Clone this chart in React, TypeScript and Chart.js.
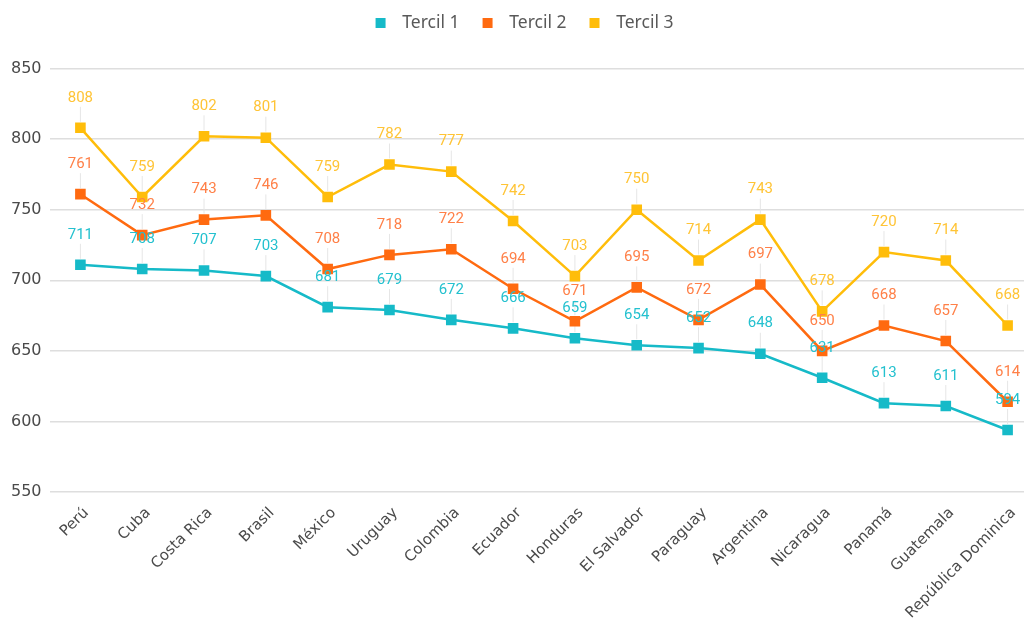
import React, { useEffect, useRef } from "react";
import { Chart, registerables } from "chart.js";

Chart.register(...registerables);

const countries = [
  "Perú", "Cuba", "Costa Rica", "Brasil", "México", "Uruguay", "Colombia", "Ecuador",
  "Honduras", "El Salvador", "Paraguay", "Argentina", "Nicaragua", "Panamá", "Guatemala",
  "República Dominica",
];
const tercil1 = [711, 708, 707, 703, 681, 679, 672, 666, 659, 654, 652, 648, 631, 613, 611, 594];
const tercil2 = [761, 732, 743, 746, 708, 718, 722, 694, 671, 695, 672, 697, 650, 668, 657, 614];
const tercil3 = [808, 759, 802, 801, 759, 782, 777, 742, 703, 750, 714, 743, 678, 720, 714, 668];
const seriesNames = ["Tercil 1", "Tercil 2", "Tercil 3"];
const lineColors = ["#16BAC8", "#FF6A10", "#FFBD0A"];
const labelColors = ["#24C1CF", "#FF8048", "#FFC436"];
const yMin = 550;
const yMax = 850;
const yStep = 50;

function legendSwatch(color: string): HTMLCanvasElement {
  const c = document.createElement("canvas");
  c.width = 31;
  c.height = 10;
  const g = c.getContext("2d")!;
  g.fillStyle = color;
  g.fillRect(13, 0, 10, 10);
  return c;
}

const valueLabels = {
  id: "valueLabels",
  beforeDatasetsDraw(chart: any) {
    const ctx = chart.ctx;
    ctx.save();
    ctx.strokeStyle = "#e6e6e6";
    ctx.lineWidth = 1;
    chart.data.datasets.forEach((_ds: any, i: number) => {
      const meta = chart.getDatasetMeta(i);
      meta.data.forEach((pt: any) => {
        ctx.beginPath();
        ctx.moveTo(pt.x, pt.y - 6);
        ctx.lineTo(pt.x, pt.y - 21);
        ctx.stroke();
      });
    });
    ctx.restore();
  },
  afterDatasetsDraw(chart: any) {
    const ctx = chart.ctx;
    ctx.save();
    ctx.font = "15px Roboto";
    ctx.textAlign = "center";
    ctx.textBaseline = "middle";
    chart.data.datasets.forEach((ds: any, i: number) => {
      const meta = chart.getDatasetMeta(i);
      ctx.fillStyle = labelColors[i];
      meta.data.forEach((pt: any, j: number) => {
        ctx.fillText(String(ds.data[j]), pt.x, pt.y - 30);
      });
    });
    ctx.restore();
  },
};

export default function App() {
  const ref = useRef<HTMLCanvasElement>(null);
  useEffect(() => {
    const series = [tercil1, tercil2, tercil3];
    const swatches = lineColors.map(legendSwatch);
    const chart = new Chart(ref.current!, {
      type: "line",
      data: {
        labels: countries,
        datasets: series.map((d, i) => ({
          label: seriesNames[i],
          data: d,
          borderColor: lineColors[i],
          backgroundColor: lineColors[i],
          pointBackgroundColor: lineColors[i],
          pointBorderWidth: 0,
          borderWidth: 2.5,
          pointStyle: "rect",
          pointRadius: 7.5,
          tension: 0,
        })),
      },
      options: {
        animation: false,
        responsive: true,
        maintainAspectRatio: false,
        layout: { padding: { top: 4, left: -10, right: 0, bottom: 0 } },
        plugins: {
          tooltip: { enabled: false },
          legend: {
            position: "top",
            labels: {
              usePointStyle: true,
              pointStyleWidth: 31,
              boxHeight: 10,
              padding: 10,
              color: "#595959",
              font: { family: "Noto Sans", size: 17.5 },
              generateLabels: (c: any) =>
                c.data.datasets.map((ds: any, i: number) => ({
                  text: ds.label,
                  fillStyle: lineColors[i],
                  strokeStyle: lineColors[i],
                  lineWidth: 0,
                  pointStyle: swatches[i],
                  hidden: false,
                  datasetIndex: i,
                  fontColor: "#595959",
                })),
            },
          },
          title: {
            display: true,
            text: "",
            weight: 500,
            font: { size: 10 },
            padding: { top: 8, bottom: 7 },
          } as any,
        },
        scales: {
          x: {
            offset: true,
            grid: { display: false, drawTicks: false },
            border: { display: false },
            ticks: {
              autoSkip: false,
              maxRotation: 45,
              minRotation: 45,
              padding: 12,
              labelOffset: 6,
              color: "#4a4a4a",
              font: { family: "DejaVu Sans", size: 15 },
            },
          },
          y: {
            min: yMin,
            max: yMax,
            grid: { color: "#dedede", lineWidth: 1.5, drawTicks: false },
            border: { display: false },
            afterFit: (s: any) => {
              s.width = 59.5;
            },
            ticks: {
              stepSize: yStep,
              padding: 8,
              color: "#4a4a4a",
              font: { family: "DejaVu Sans", size: 16 },
            },
          },
        },
      },
      plugins: [valueLabels],
    });
    return () => chart.destroy();
  }, []);
  return (
    <div
      style={{
        position: "fixed",
        left: 0,
        top: 0,
        width: 1024,
        height: 622,
        overflow: "hidden",
        background: "#fff",
      }}
    >
      <div style={{ position: "relative", width: 1046, height: 634 }}>
        <canvas ref={ref} />
      </div>
    </div>
  );
}
